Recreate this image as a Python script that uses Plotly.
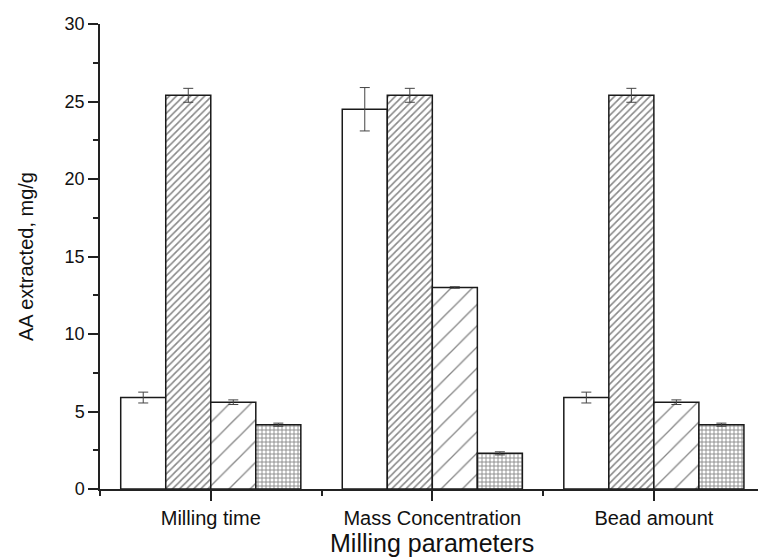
import plotly.graph_objects as go

# Milling parameter groups and AA extracted (mg/g) for each of four conditions
categories = ["Milling time", "Mass Concentration", "Bead amount"]
cond_a = [5.9, 24.5, 5.9]
cond_a_err = [0.35, 1.4, 0.35]
cond_b = [25.4, 25.4, 25.4]
cond_b_err = [0.45, 0.45, 0.45]
cond_c = [5.6, 13.0, 5.6]
cond_c_err = [0.15, 0.05, 0.15]
cond_d = [4.15, 2.3, 4.15]
cond_d_err = [0.1, 0.1, 0.1]

x_pos = list(range(len(categories)))

series = [
    ("Condition A", cond_a, cond_a_err, dict(shape="", fgcolor="black", bgcolor="white")),
    ("Condition B", cond_b, cond_b_err, dict(shape="/", fgcolor="#111", bgcolor="white", size=5, solidity=0.32)),
    ("Condition C", cond_c, cond_c_err, dict(shape="/", fgcolor="#111", bgcolor="white", size=15, solidity=0.09)),
    ("Condition D", cond_d, cond_d_err, dict(shape="+", fgcolor="#111", bgcolor="white", size=4, solidity=0.4)),
]

fig = go.Figure()
for name, vals, errs, pattern in series:
    fig.add_trace(go.Bar(
        x=x_pos, y=vals, name=name,
        marker=dict(color="white", line=dict(color="#1a1a1a", width=1.5), pattern=pattern),
        error_y=dict(type="data", array=errs, visible=True, color="#444", thickness=1, width=5),
        showlegend=False,
    ))

axis_font = dict(family="Liberation Sans, Arial, sans-serif", color="#111")

fig.update_layout(
    width=758, height=558,
    margin=dict(l=100, r=0, t=24, b=69),
    paper_bgcolor="white", plot_bgcolor="white",
    barmode="group", bargap=0.187, bargroupgap=0,
    font=axis_font,
    xaxis=dict(
        range=[-0.5, 2.47], automargin=False,
        tickmode="array", tickvals=x_pos, ticktext=categories,
        tickfont=dict(size=20, color="#111"),
        ticks="outside", ticklen=10, tickwidth=1.5, tickcolor="#222",
        minor=dict(tickmode="linear", tick0=0.5, dtick=1, ticks="outside", ticklen=5, tickwidth=1.5, tickcolor="#222"),
        showline=True, linecolor="#222", linewidth=1.5,
        showgrid=False, zeroline=False,
    ),
    yaxis=dict(
        range=[0, 30], dtick=5, tick0=0, automargin=False,
        tickfont=dict(size=18, color="#111"),
        ticks="outside", ticklen=10, tickwidth=1.5, tickcolor="#222",
        minor=dict(dtick=2.5, ticks="outside", ticklen=5, tickwidth=1.5, tickcolor="#222"),
        showline=True, linecolor="#222", linewidth=1.5,
        showgrid=False, zeroline=False,
        title=dict(text="AA extracted, mg/g", font=dict(size=20, color="#111"), standoff=26),
    ),
    annotations=[
        # x-axis title, set low beneath the category labels
        dict(text="Milling parameters", xref="paper", yref="paper", x=0.5046, y=-0.082,
             xanchor="center", yanchor="top", showarrow=False,
             font=dict(size=25, color="#111")),
    ],
)

fig.write_html("out.html")
